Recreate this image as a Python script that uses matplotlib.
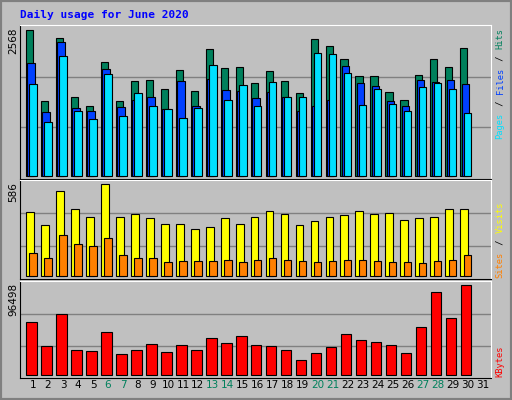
import matplotlib
matplotlib.use("Agg")
import matplotlib.pyplot as plt
import numpy as np

days = list(range(1, 31))
hits = [2568,1325,2429,1394,1238,1993,1325,1673,1691,1534,1865,1499,2231,1900,1917,1638,1848,1673,1464,2405,2283,2057,1760,1760,1482,1342,1778,2057,1917,2249]
files = [1987,1133,2353,1203,1150,1882,1220,1336,1394,1174,1673,1238,1708,1516,1499,1377,1482,1394,1150,1238,1342,1935,1638,1586,1325,1238,1691,1656,1691,1621]
pages = [1621,947,2109,1150,1011,1795,1063,1464,1238,1185,1028,1203,1952,1342,1604,1238,1656,1394,1394,2161,2144,1813,1255,1534,1272,1150,1569,1638,1534,1115]
visits = [406,324,539,425,374,586,374,393,368,330,330,298,311,368,330,374,413,393,324,349,374,387,413,393,400,355,368,374,425,425]
sites = [146,114,260,203,190,241,133,114,114,89,95,95,95,102,89,102,114,102,95,89,95,102,102,95,89,89,83,95,102,133]
kbytes = [57264,31812,65747,27570,26512,46660,22269,27570,33934,25450,32873,27570,40297,34994,42418,32873,31812,27570,15906,24390,30752,44539,38175,36055,32873,24390,51961,89077,61505,96498]
labels = [str(d) for d in range(1, 32)]
weekends = {6, 7, 13, 14, 20, 21, 27, 28}

BG = "#C0C0C0"
fig = plt.figure(figsize=(5.12, 4.0), dpi=100, facecolor=BG)
W, H = 512, 400
mono = "DejaVu Sans Mono"

def mkax(top, bottom):
    ax = fig.add_axes([20/W, 1-bottom/H, 471/W, (bottom-top)/H])
    ax.set_facecolor(BG)
    ax.set_xlim(0.62, 32.04)
    for s in ax.spines.values():
        s.set_color("black"); s.set_linewidth(0.8)
    ax.spines["top"].set_color("white"); ax.spines["right"].set_color("white")
    ax.set_xticks([]); ax.set_yticks([])
    return ax

x = np.array(days, dtype=float)
ek = dict(edgecolor="black", linewidth=0.8, align="edge")

ax1 = mkax(25, 179)
k = 2568/442
ax1.set_ylim(-8*k, 456*k)
for f in (0.335, 0.68):
    ax1.axhline(2568*f, color="#808080", lw=1, zorder=0)
ax1.bar(x, hits, 0.47, color="#00805C", **ek)
ax1.bar(x+0.11, files, 0.49, color="#0040FF", **ek)
ax1.bar(x+0.22, pages, 0.51, color="#00E0FF", **ek)

ax2 = mkax(180, 279)
k = 586/277
ax2.set_ylim(-8*k, 289*k)
for f in (0.33, 0.69):
    ax2.axhline(586*f, color="#808080", lw=1, zorder=0)
ax2.bar(x, visits, 0.53, color="#FFFF00", **ek)
ax2.bar(x+0.24, sites, 0.49, color="#FF8000", **ek)

ax3 = mkax(281, 378)
k = 96498/273
ax3.set_ylim(-8*k, 285*k)
for f in (0.32, 0.68):
    ax3.axhline(96498*f, color="#808080", lw=1, zorder=0)
ax3.bar(x+0.04, kbytes, 0.69, color="#FF0000", **ek)

for i, lab in enumerate(labels):
    d = i + 1
    ax3.text(d+0.49, -0.075, lab, transform=ax3.get_xaxis_transform(),
             ha="center", va="center", fontsize=7.5, family="DejaVu Sans",
             color="#00805C" if d in weekends else "black")

fig.text(20/W, 1-15/H, "Daily usage for June 2020", color="#0000FF",
         fontsize=8, weight="bold", family=mono, va="center")

def left(txt, ytop):
    fig.text(13/W, 1-ytop/H, txt, rotation=90, va="top", ha="center",
             fontsize=7.5, family="DejaVu Sans")
left("2568", 27); left("586", 182); left("96498", 283)

def right(parts, ybottom, cw=5.6, fs=6.3):
    y = ybottom
    for t, c in parts:
        fig.text(500/W, 1-y/H, t, rotation=90, va="bottom", ha="center",
                 fontsize=fs, family=mono, color=c)
        y -= cw*len(t)
right([("Pages", "#00E0FF"), (" / ", "black"), ("Files", "#0040FF"),
       (" / ", "black"), ("Hits", "#00805C")], 139)
right([("Sites", "#FF8000"), (" / ", "black"), ("Visits", "#FFFF00")], 278)
right([("KBytes", "#FF0000")], 377)

fig.patches.append(plt.Rectangle((0, 0), 1, 1, transform=fig.transFigure,
                   fill=False, edgecolor="#808080", lw=3))
fig.savefig("out.png", dpi=100, facecolor=BG)
